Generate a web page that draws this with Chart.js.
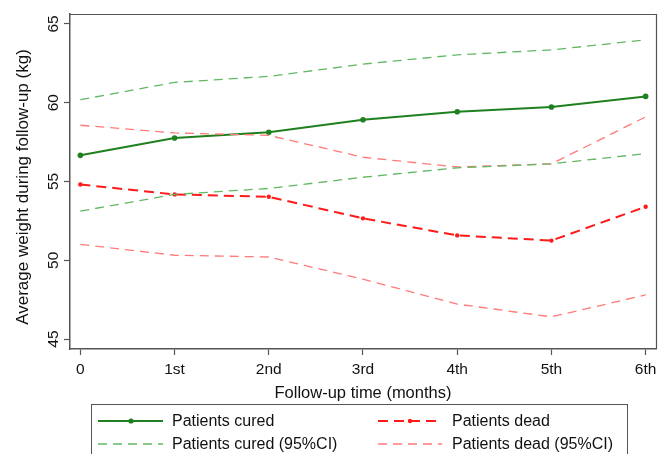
<!DOCTYPE html>
<html><head><meta charset="utf-8">
<script src="https://cdn.jsdelivr.net/npm/chart.js@4.4.1/dist/chart.umd.min.js"></script>
<style>
html,body{margin:0;padding:0;background:#fff;}
#wrap{position:relative;width:668px;height:454px;overflow:hidden;background:#fff;}
#c{position:absolute;left:0;top:0;}
#legend{position:absolute;left:91px;top:404px;width:537px;height:70px;border:1px solid #555;box-sizing:border-box;font-family:"Liberation Sans",Arial,sans-serif;font-size:16px;color:#111;}
#legend span{position:absolute;line-height:20px;white-space:nowrap;}
#legend svg{position:absolute;left:0;top:0;}
</style>
</head><body>
<div id="wrap">
<canvas id="c" width="668" height="454"></canvas>
<div id="legend">
<svg width="537" height="70" id="lsvg"></svg>
<span id="l1" style="left:80px;top:6px;">Patients cured</span>
<span id="l2" style="left:360px;top:6px;">Patients dead</span>
<span id="l3" style="left:80px;top:29px;">Patients cured (95%CI)</span>
<span id="l4" style="left:360px;top:29px;">Patients dead (95%CI)</span>
</div>
</div>
<script>
const months = [0, 1, 2, 3, 4, 5, 6];
const monthLabels = ['0', '1st', '2nd', '3rd', '4th', '5th', '6th'];
const yTickValues = [45, 50, 55, 60, 65];
const curedMean  = [56.66, 57.76, 58.12, 58.92, 59.43, 59.73, 60.40];
const curedUpper = [60.19, 61.29, 61.67, 62.45, 63.04, 63.35, 63.99];
const curedLower = [53.12, 54.18, 54.56, 55.27, 55.87, 56.12, 56.77];
const deadMean   = [54.81, 54.18, 54.03, 52.66, 51.58, 51.25, 53.40];
const deadUpper  = [58.57, 58.08, 57.93, 56.54, 55.92, 56.12, 59.10];
const deadLower  = [51.01, 50.32, 50.21, 48.80, 47.22, 46.41, 47.80];

const FONT = '"Liberation Sans", Arial, sans-serif';
const GREEN = '#1f801f', GREEN_CI = '#62b862', RED = '#ff1a1a', RED_CI = '#ff7a7a';
const AXIS = '#555555';

function pts(arr){ return months.map((m,i)=>({x:m, y:arr[i]})); }

// legend samples
(function(){
  const s = document.getElementById('lsvg');
  const ns = 'http://www.w3.org/2000/svg';
  function line(x1,x2,y,color,w,dash){
    const l=document.createElementNS(ns,'line');
    l.setAttribute('x1',x1);l.setAttribute('x2',x2);l.setAttribute('y1',y);l.setAttribute('y2',y);
    l.setAttribute('stroke',color);l.setAttribute('stroke-width',w);
    if(dash) l.setAttribute('stroke-dasharray',dash);
    s.appendChild(l);
  }
  function dot(x,y,r,color){
    const c=document.createElementNS(ns,'circle');
    c.setAttribute('cx',x);c.setAttribute('cy',y);c.setAttribute('r',r);c.setAttribute('fill',color);
    s.appendChild(c);
  }
  line(6,71,16,GREEN,2,null); dot(39,16,2.6,GREEN);
  line(6,71,39,GREEN_CI,1.3,'9 6');
  line(286,350,16,RED,2,'10 6'); dot(318,16,2.2,RED);
  line(286,350,39,RED_CI,1.3,'9 6');
})();

const framePlugin = {
  id:'frame',
  afterDraw(chart){
    const {ctx, chartArea:a, scales} = chart;
    ctx.save();
    // top and right frame
    ctx.strokeStyle = AXIS; ctx.lineWidth = 1.2;
    ctx.beginPath(); ctx.moveTo(a.left, a.top+0.5); ctx.lineTo(a.right+0.5, a.top+0.5); ctx.lineTo(a.right+0.5, a.bottom); ctx.stroke();
    // rotated y tick labels
    ctx.fillStyle = '#111';
    ctx.font = '15.5px ' + FONT;
    ctx.textAlign = 'center'; ctx.textBaseline = 'middle';
    yTickValues.forEach(v=>{
      const y = scales.y.getPixelForValue(v);
      ctx.save(); ctx.translate(53.5, y); ctx.rotate(-Math.PI/2); ctx.fillText(String(v), 0, 0); ctx.restore();
    });
    // axis titles
    ctx.font = '17px ' + FONT;
    ctx.save(); ctx.translate(23, 187); ctx.rotate(-Math.PI/2); ctx.fillText('Average weight during follow-up (kg)', 0, 0); ctx.restore();
    ctx.font = '16.5px ' + FONT;
    ctx.fillText('Follow-up time (months)', (a.left+a.right)/2, 393);
    ctx.restore();
  }
};

const ciStyle = (c)=>({borderColor:c, backgroundColor:c, borderWidth:1.3, borderDash:[9,6], pointRadius:0, fill:false, tension:0});

new Chart(document.getElementById('c'), {
  type:'line',
  data:{ datasets:[
    Object.assign({label:'Patients cured (95%CI) upper', data:pts(curedUpper)}, ciStyle(GREEN_CI)),
    Object.assign({label:'Patients cured (95%CI) lower', data:pts(curedLower)}, ciStyle(GREEN_CI)),
    Object.assign({label:'Patients dead (95%CI) upper', data:pts(deadUpper)}, ciStyle(RED_CI)),
    Object.assign({label:'Patients dead (95%CI) lower', data:pts(deadLower)}, ciStyle(RED_CI)),
    {label:'Patients dead', data:pts(deadMean), borderColor:RED, backgroundColor:RED, borderWidth:2, borderDash:[10,6], pointRadius:2.2, pointBorderWidth:0, tension:0},
    {label:'Patients cured', data:pts(curedMean), borderColor:GREEN, backgroundColor:GREEN, borderWidth:2, pointRadius:2.8, pointBorderWidth:0, tension:0}
  ]},
  options:{
    responsive:false, animation:false, devicePixelRatio:1,
    layout:{padding:{top:14, right:12, left:0, bottom:0}},
    plugins:{legend:{display:false}, tooltip:{enabled:false}},
    scales:{
      x:{
        type:'linear', min:-0.11, max:6.11,
        afterBuildTicks(s){ s.ticks = months.map(v=>({value:v})); },
        afterFit(s){ s.height = 105; },
        ticks:{ callback:(v)=>monthLabels[months.indexOf(v)] ?? '', font:{family:FONT, size:15.5}, color:'#111', padding:5, maxRotation:0, autoSkip:false },
        grid:{display:true, drawOnChartArea:false, drawTicks:true, tickLength:6, color:AXIS, tickWidth:1.2},
        border:{display:true, color:AXIS, width:1.5}
      },
      y:{
        type:'linear', min:44.37, max:65.63,
        afterBuildTicks(s){ s.ticks = yTickValues.map(v=>({value:v})); },
        afterFit(s){ s.width = 70; },
        ticks:{ display:false },
        grid:{display:true, drawOnChartArea:false, drawTicks:true, tickLength:6, color:AXIS, tickWidth:1.2},
        border:{display:true, color:AXIS, width:1.5}
      }
    }
  },
  plugins:[framePlugin]
});
</script>
</body></html>
